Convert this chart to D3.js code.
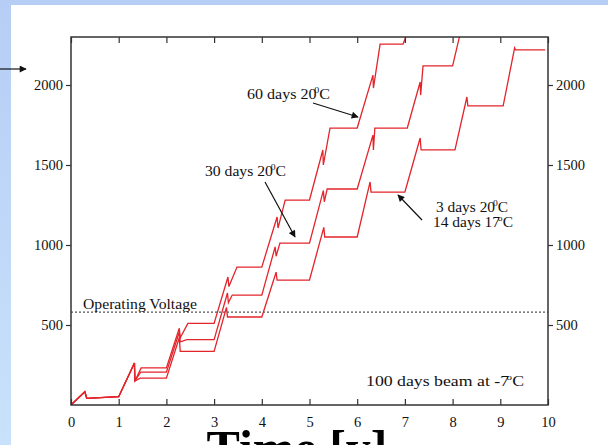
<!DOCTYPE html>
<html>
<head>
<meta charset="utf-8">
<script src="https://cdn.jsdelivr.net/npm/d3@7/dist/d3.min.js"></script>
<style>
  html, body { margin: 0; padding: 0; background: #fff; }
  svg { display: block; }
</style>
</head>
<body>
<div id="chart"></div>
<script>
// 数据: 每条曲线为 [年, 电压] 点列
const curve60 = [
  [0, 0], [0.29, 83], [0.33, 42], [1.0, 52],
  [1.33, 262], [1.34, 150], [1.47, 232], [2.0, 232],
  [2.27, 480], [2.29, 420], [2.45, 510], [3.0, 510],
  [3.29, 800], [3.31, 740], [3.48, 862], [4.0, 862],
  [4.32, 1175], [4.34, 1106], [4.49, 1281], [5.0, 1281],
  [5.28, 1594], [5.29, 1500], [5.43, 1731], [6.0, 1731],
  [6.33, 2062], [6.34, 1981], [6.48, 2256], [6.96, 2256], [7.3, 2500]
];
const curve30 = [
  [0, 0], [0.29, 83], [0.33, 42], [1.0, 52],
  [1.33, 262], [1.34, 150], [1.46, 205], [2.0, 205],
  [2.27, 455], [2.29, 395], [2.43, 408], [3.0, 408],
  [3.28, 700], [3.30, 640], [3.38, 687], [4.0, 687],
  [4.28, 988], [4.30, 930], [4.38, 1012], [5.0, 1012],
  [5.29, 1340], [5.31, 1270], [5.37, 1350], [6.0, 1350],
  [6.33, 1687], [6.34, 1594], [6.37, 1731], [7.05, 1731],
  [7.32, 2019], [7.33, 1937], [7.38, 2119], [8.0, 2119], [8.3, 2500]
];
const curve3 = [
  [0, 0], [0.29, 83], [0.33, 42], [1.0, 52],
  [1.33, 262], [1.34, 150], [1.45, 168], [2.0, 168],
  [2.27, 420], [2.29, 335], [3.0, 335],
  [3.26, 610], [3.28, 550], [4.0, 550],
  [4.3, 830], [4.32, 781], [5.0, 781],
  [5.3, 1110], [5.32, 1050], [6.0, 1050],
  [6.27, 1394], [6.29, 1331], [7.0, 1331],
  [7.32, 1669], [7.34, 1594], [8.05, 1594],
  [8.3, 1925], [8.32, 1869], [9.06, 1869],
  [9.3, 2232], [9.32, 2219], [9.94, 2219]
];
const xTicks = [0, 1, 2, 3, 4, 5, 6, 7, 8, 9, 10];
const yTicks = [500, 1000, 1500, 2000];
const operatingVoltage = 580;

const W = 608, H = 445;
const svg = d3.select("#chart").append("svg")
  .attr("width", W).attr("height", H);

// 背景 (幻灯片的蓝色边)
const defs = svg.append("defs");
const grad = defs.append("linearGradient").attr("id", "bg").attr("x1", 0).attr("y1", 0).attr("x2", 0).attr("y2", 1);
grad.append("stop").attr("offset", "0%").attr("stop-color", "#b6cdf5");
grad.append("stop").attr("offset", "100%").attr("stop-color", "#c8e2fb");
svg.append("rect").attr("width", W).attr("height", H).attr("fill", "url(#bg)");
svg.append("rect").attr("x", 11).attr("y", 5).attr("width", W - 11).attr("height", H - 5).attr("fill", "#fff");

const x = d3.scaleLinear().domain([0, 10]).range([71, 548]);
const y = d3.scaleLinear().domain([0, 2300]).range([405, 37]);

defs.append("clipPath").attr("id", "plot")
  .append("rect").attr("x", 71).attr("y", 37).attr("width", 477).attr("height", 368);

defs.append("marker").attr("id", "arr").attr("viewBox", "0 0 10 10")
  .attr("refX", 9).attr("refY", 5).attr("markerWidth", 10).attr("markerHeight", 7)
  .attr("markerUnits", "userSpaceOnUse").attr("orient", "auto")
  .append("path").attr("d", "M0,0 L10,5 L0,10 Z").attr("fill", "#111");

const serif = "'Liberation Serif', 'Times New Roman', serif";

// 工作电压虚线
svg.append("line")
  .attr("x1", x(0)).attr("x2", x(10))
  .attr("y1", y(operatingVoltage)).attr("y2", y(operatingVoltage))
  .attr("stroke", "#555").attr("stroke-width", 1.2).attr("stroke-dasharray", "2,2");

// 曲线
const line = d3.line().x(d => x(d[0])).y(d => y(d[1]));
svg.append("g").attr("clip-path", "url(#plot)")
  .selectAll("path").data([curve60, curve30, curve3]).join("path")
  .attr("d", line).attr("fill", "none")
  .attr("stroke", "#e3242b").attr("stroke-width", 1.3);

// 坐标轴
const axStyle = g => {
  g.select(".domain").remove();
  g.selectAll("line").attr("stroke", "#333").attr("stroke-width", 1.2);
  g.selectAll("text").attr("font-family", serif).attr("font-size", 14.5).attr("fill", "#111");
};
svg.append("g").attr("transform", `translate(0,${y(0)})`)
  .call(d3.axisBottom(x).tickValues(xTicks).tickSize(-6).tickPadding(12).tickFormat(d3.format("d")))
  .call(axStyle);
svg.append("g").attr("transform", `translate(0,${y(2300)})`)
  .call(d3.axisTop(x).tickValues(xTicks).tickSize(-6).tickFormat(""))
  .call(axStyle);
svg.append("g").attr("transform", `translate(${x(0)},0)`)
  .call(d3.axisLeft(y).tickValues(yTicks).tickSize(5).tickPadding(3).tickFormat(d3.format("d")))
  .call(axStyle);
svg.append("g").attr("transform", `translate(${x(10)},0)`)
  .call(d3.axisRight(y).tickValues(yTicks).tickSize(5).tickPadding(3).tickFormat(d3.format("d")))
  .call(axStyle);
svg.append("rect").attr("x", x(0)).attr("y", y(2300))
  .attr("width", x(10) - x(0)).attr("height", y(0) - y(2300))
  .attr("fill", "none").attr("stroke", "#333").attr("stroke-width", 1.5);

// 注释
const ann = svg.append("g").attr("font-family", serif).attr("font-size", 14.5).attr("fill", "#111");
function degText(tx, ty, pre, sup, post, len) {
  const t = ann.append("text").attr("x", tx).attr("y", ty)
    .attr("textLength", len).attr("lengthAdjust", "spacingAndGlyphs");
  t.append("tspan").text(pre);
  t.append("tspan").attr("font-size", 9).attr("dy", -6).attr("dx", -2).text(sup);
  t.append("tspan").attr("dy", 6).text(post);
}
degText(247, 99, "60 days 20", "0", "C", 83);
degText(205, 176, "30 days 20", "0", "C", 81);
degText(436, 212, "3 days 20", "0", "C", 72);
degText(433, 227, "14 days 17", "o", "C", 80);
degText(366, 386, "100 days beam at -7", "o", "C", 158);
ann.append("text").attr("x", 83).attr("y", 309)
  .attr("textLength", 114).attr("lengthAdjust", "spacingAndGlyphs").text("Operating Voltage");

const arrows = [
  [313, 103, 358, 117],
  [265, 182, 295, 237],
  [422, 220, 398, 195],
  [0, 69, 26, 69]
];
svg.selectAll("line.arrow").data(arrows).join("line").attr("class", "arrow")
  .attr("x1", d => d[0]).attr("y1", d => d[1]).attr("x2", d => d[2]).attr("y2", d => d[3])
  .attr("stroke", "#111").attr("stroke-width", 1.2).attr("marker-end", "url(#arr)");

// 轴标题 (被裁切)
svg.append("text").attr("x", 297).attr("y", 465).attr("text-anchor", "middle")
  .attr("font-family", serif).attr("font-weight", "bold").attr("font-size", 50).attr("fill", "#000")
  .text("Time [y]");
</script>
</body>
</html>
